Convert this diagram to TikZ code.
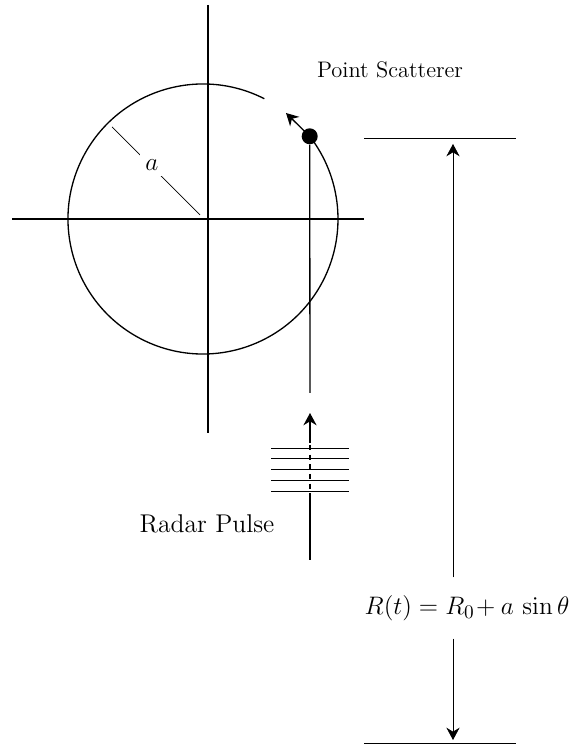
\documentclass[tikz,border=0pt]{standalone}
\usepackage{amsmath,amssymb}
\usepackage{tikz}
\usetikzlibrary{arrows.meta}

\begin{document}
\begin{tikzpicture}[x=0.02cm,y=0.02cm,
    axis/.style={line width=0.75pt},
    thinline/.style={line width=0.4pt},
    bigtext/.style={font=\fontsize{14.6}{17}\selectfont},
    tip/.style={-{Stealth[length=7pt,width=7.5pt]}}]
        \useasboundingbox (0,0) rectangle (579,747);
        \coordinate (c) at (203,528);

        % axes and orbit
        \draw[axis] (12,528) -- (364,528);
        \draw[axis] (208,742) -- (208,314);
        \draw[axis] (c) ++(63:135) arc[start angle=63, end angle=397.8, radius=135];
        \node[circle, fill, inner sep=0pt, minimum size=0.32cm] (dot) at (309.7,610.7) {};
        \coordinate (tipend) at (286,634);
        \draw[axis, tip] (dot.center) -- (tipend);

        % radius
        \coordinate (rin) at (200,532);
        \coordinate (rout) at (112,620);
        \draw[thinline] (rin) -- (rout);
        \node[fill=white, inner sep=3pt, bigtext] (alab) at (152,582) {$a$};

        % radar pulse
        \coordinate (trackend) at (310,354);
        \draw[axis] (dot.south) -- (trackend);
        \coordinate (pulsetail) at (310,304);
        \coordinate (pulsehead) at (310,334);
        \draw[axis, tip] (pulsetail) -- (pulsehead);
        \foreach \y in {299,289,278,267,256}
            \draw[thinline] (271,\y) -- (349,\y);
        \draw[axis, dash pattern=on 3pt off 2.5pt] (310,302) -- (310,252);
        \draw[axis] (310,252) -- (310,187);

        % range
        \draw[thinline] (364,609) -- (516,609);
        \draw[thinline] (364,4) -- (516,4);
        \node[inner sep=10pt, font=\fontsize{15}{18}\selectfont] (rlab) at (467,139) {$R(t) = R_0\!+ a\,\sin\theta$};
        \coordinate (rtop) at (453,603);
        \coordinate (rbot) at (453,7);
        \draw[thinline, tip] (rlab.north -| rtop) -- (rtop);
        \draw[thinline, tip] (rlab.south -| rbot) -- (rbot);

        \node[font=\fontsize{12.8}{15}\selectfont] (scat) at (390,677) {Point Scatterer};
        \node[bigtext] (pulse) at (207,223) {Radar Pulse};
    \end{tikzpicture}
\end{document}
